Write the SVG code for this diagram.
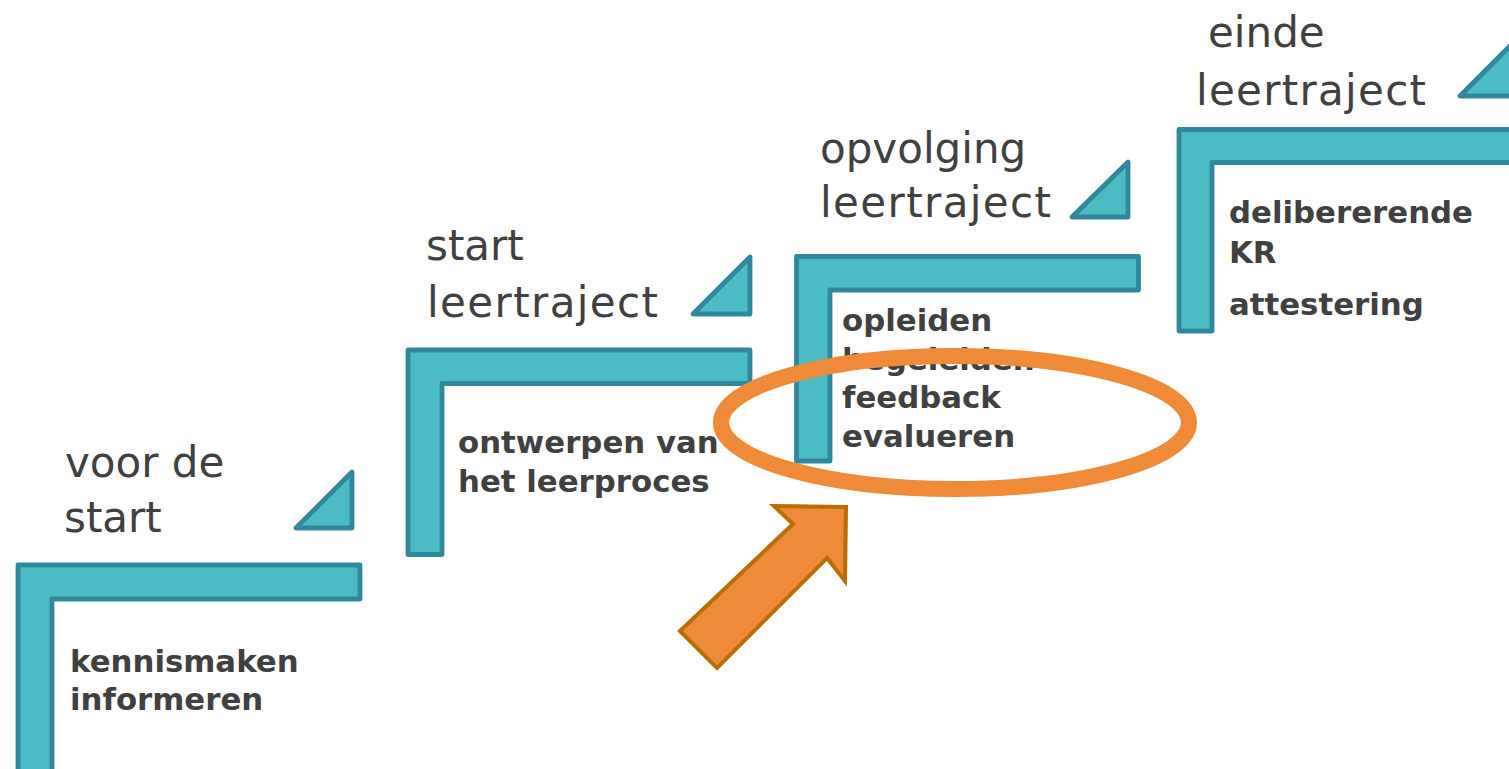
<svg xmlns="http://www.w3.org/2000/svg" width="1509" height="769" viewBox="0 0 1509 769">
<style>
.step{fill:#4BBBC5;stroke:#31879C;stroke-width:4.8;stroke-linejoin:round}
.title{font-family:"DejaVu Sans","Liberation Sans",sans-serif;font-size:42px;fill:#404040}
.body{font-family:"DejaVu Sans","Liberation Sans",sans-serif;font-size:30.8px;font-weight:bold;fill:#404040}
</style>
<rect width="1509" height="769" fill="#FFFFFF"/>
<g id="step1">
<path class="step" d="M18,565 H360 V599 H52 V775 H18 Z"/>
<path class="step" d="M296,528 L352,472 V528 Z"/>
<text class="title" x="65" y="477">voor de</text>
<text class="title" x="64" y="532">start</text>
<text class="body" x="70" y="672">kennismaken</text>
<text class="body" x="70" y="710">informeren</text>
</g>
<g id="step2">
<path class="step" d="M408,350 H750 V383.5 H442 V554.5 H408 Z"/>
<path class="step" d="M693,314 L750,257 V314 Z"/>
<text class="title" x="426" y="260">start</text>
<text class="title" x="427" y="317" textLength="231" lengthAdjust="spacing">leertraject</text>
<text class="body" x="458" y="453">ontwerpen van</text>
<text class="body" x="458" y="492">het leerproces</text>
</g>
<g id="step3">
<path class="step" d="M796.5,256.5 H1138.5 V290 H830 V461 H796.5 Z"/>
<path class="step" d="M1072,217 L1128,162 V217 Z"/>
<text class="title" x="820" y="163">opvolging</text>
<text class="title" x="820" y="217" textLength="231" lengthAdjust="spacing">leertraject</text>
<text class="body" x="842" y="331">opleiden</text>
<text class="body" x="842" y="369.5">begeleiden</text>
<text class="body" x="842" y="408">feedback</text>
<text class="body" x="842" y="447">evalueren</text>
</g>
<g id="step4">
<path class="step" d="M1179,129.5 H1520 V162.5 H1212 V331 H1179 Z"/>
<path class="step" d="M1460,96 L1516,40 V96 Z"/>
<text class="title" x="1208" y="47">einde</text>
<text class="title" x="1196" y="105" textLength="230" lengthAdjust="spacing">leertraject</text>
<text class="body" x="1229" y="223">delibererende</text>
<text class="body" x="1229" y="263">KR</text>
<text class="body" x="1229" y="315">attestering</text>
</g>
<g id="highlight">
<ellipse cx="955" cy="422.5" rx="234" ry="66.5" fill="none" stroke="#EE8A38" stroke-width="16"/>
<path d="M774,506 L846,507 L845,581 L827,558 L717,668 L680,631 L793,524 Z" fill="#EE8A38" stroke="#B86D05" stroke-width="4" stroke-linejoin="miter"/>
</g>
</svg>
